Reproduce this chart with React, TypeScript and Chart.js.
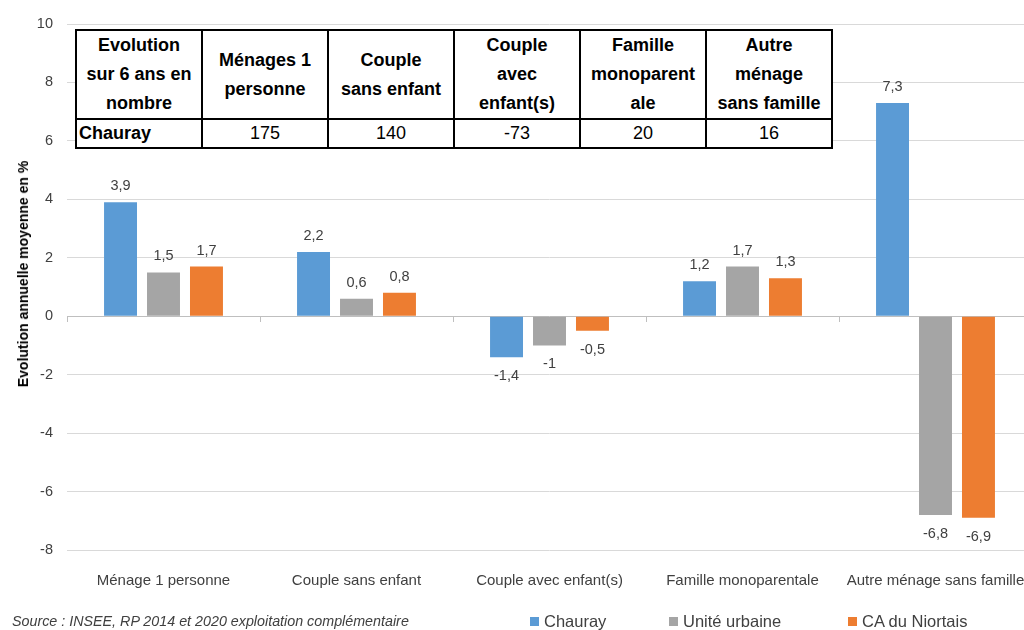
import React, { useEffect, useRef } from "react";
import { Chart, registerables } from "chart.js";

Chart.register(...registerables);

const categories = [
  "Ménage 1 personne",
  "Couple sans enfant",
  "Couple avec enfant(s)",
  "Famille monoparentale",
  "Autre ménage sans famille",
];
const chauray = [3.9, 2.2, -1.4, 1.2, 7.3];
const uniteUrbaine = [1.5, 0.6, -1, 1.7, -6.8];
const caNiortais = [1.7, 0.8, -0.5, 1.3, -6.9];
const seriesNames = ["Chauray", "Unité urbaine", "CA du Niortais"];
const seriesColors = ["#5B9BD5", "#A5A5A5", "#ED7D31"];

const tableHeader = [
  ["Evolution", "sur 6 ans en", "nombre"],
  ["Ménages 1", "personne"],
  ["Couple", "sans enfant"],
  ["Couple", "avec", "enfant(s)"],
  ["Famille", "monoparent", "ale"],
  ["Autre", "ménage", "sans famille"],
];
const tableRowLabel = "Chauray";
const tableValues = ["175", "140", "-73", "20", "16"];

const yTitle = "Evolution annuelle moyenne en %";
const sourceText = "Source : INSEE, RP 2014 et 2020 exploitation complémentaire";

const FONT = "'Liberation Sans', Arial, sans-serif";

const fmt = (v: number) => String(v).replace(".", ",");

const zeroAxisPlugin = {
  id: "zeroAxis",
  beforeDatasetsDraw(chart: any) {
    const { ctx, scales } = chart;
    const x = scales.x;
    const y = scales.y;
    const y0 = Math.round(y.getPixelForValue(0));
    ctx.save();
    ctx.strokeStyle = "#bfbfbf";
    ctx.lineWidth = 1;
    ctx.beginPath();
    ctx.moveTo(chart.chartArea.left, y0 + 0.5);
    ctx.lineTo(chart.chartArea.right, y0 + 0.5);
    for (let i = 0; i <= categories.length; i++) {
      const px = Math.round(x.getPixelForValue(i - 0.5)) + 0.5;
      ctx.moveTo(px, y0);
      ctx.lineTo(px, y0 + 6);
    }
    ctx.stroke();
    ctx.restore();
  },
};

const dataLabelPlugin = {
  id: "dataLabels",
  afterDatasetsDraw(chart: any) {
    const { ctx } = chart;
    ctx.save();
    ctx.font = `14.5px ${FONT}`;
    ctx.fillStyle = "#404040";
    ctx.textAlign = "center";
    ctx.textBaseline = "middle";
    chart.data.datasets.forEach((ds: any, di: number) => {
      const meta = chart.getDatasetMeta(di);
      meta.data.forEach((el: any, i: number) => {
        const v = ds.data[i] as number;
        const yy = v >= 0 ? el.y - 16 : el.y + 19;
        ctx.fillText(fmt(v), el.x, yy);
      });
    });
    ctx.restore();
  },
};

export default function App() {
  const ref = useRef<HTMLCanvasElement>(null);

  useEffect(() => {
    if (!ref.current) return;
    const datasets = [chauray, uniteUrbaine, caNiortais].map((d, i) => ({
      label: seriesNames[i],
      data: d,
      backgroundColor: seriesColors[i],
      categoryPercentage: 0.668,
      barPercentage: 0.767,
    }));
    const chart = new Chart(ref.current, {
      type: "bar",
      data: { labels: categories, datasets },
      options: {
        responsive: false,
        animation: false,
        layout: { padding: { top: 24, left: 0, right: 0, bottom: 0 } },
        plugins: {
          legend: { display: false },
          tooltip: { enabled: false },
        },
        scales: {
          x: {
            grid: { display: false },
            border: { display: false },
            ticks: {
              font: { family: FONT, size: 15 },
              color: "#404040",
              padding: 14,
              maxRotation: 0,
            },
            afterFit: (s: any) => {
              s.height = 80;
              s.paddingLeft = 0;
              s.paddingRight = 0;
            },
          },
          y: {
            min: -8,
            max: 10,
            ticks: {
              stepSize: 2,
              font: { family: FONT, size: 14.5 },
              color: "#404040",
              padding: 14,
            },
            grid: {
              color: (c: any) => (c.tick && c.tick.value === 0 ? "rgba(0,0,0,0)" : "#d9d9d9"),
              drawTicks: false,
            },
            border: { display: false },
            title: { display: false },
            afterFit: (s: any) => {
              s.width = 67;
            },
          },
        },
      },
      plugins: [zeroAxisPlugin, dataLabelPlugin],
    } as any);
    return () => chart.destroy();
  }, []);

  const cellStyle: React.CSSProperties = {
    border: "2px solid #000",
    padding: 0,
    textAlign: "center",
  };

  const legendSquareLeft = [530, 669, 848];

  return (
    <div
      style={{
        position: "absolute",
        left: 0,
        top: 0,
        width: 1024,
        height: 630,
        overflow: "hidden",
        background: "#fff",
        fontFamily: FONT,
      }}
    >
      <canvas ref={ref} width={1032} height={630} style={{ position: "absolute", left: 0, top: 0 }} />
      <div
        style={{
          position: "absolute",
          left: 23,
          top: 274,
          transform: "translate(-50%, -50%) rotate(-90deg)",
          fontSize: 14,
          fontWeight: "bold",
          color: "#000",
          whiteSpace: "nowrap",
          lineHeight: "16px",
        }}
      >
        {yTitle}
      </div>
      <table
        style={{
          position: "absolute",
          left: 75,
          top: 29,
          width: 756,
          borderCollapse: "collapse",
          background: "#fff",
          fontFamily: FONT,
          fontSize: 18,
          color: "#000",
          tableLayout: "fixed",
        }}
      >
        <colgroup>
          {tableHeader.map((_, i) => (
            <col key={i} style={{ width: 126 }} />
          ))}
        </colgroup>
        <tbody>
          <tr style={{ height: 89 }}>
            {tableHeader.map((lines, i) => (
              <td key={i} style={{ ...cellStyle, fontWeight: "bold", lineHeight: "29px" }}>
                {lines.map((l, j) => (
                  <div key={j} style={{ whiteSpace: "nowrap" }}>
                    {l}
                  </div>
                ))}
              </td>
            ))}
          </tr>
          <tr style={{ height: 29 }}>
            <td style={{ ...cellStyle, textAlign: "left", fontWeight: "bold", paddingLeft: 2 }}>{tableRowLabel}</td>
            {tableValues.map((v, i) => (
              <td key={i} style={cellStyle}>
                {v}
              </td>
            ))}
          </tr>
        </tbody>
      </table>
      <div
        style={{
          position: "absolute",
          left: 12,
          top: 612,
          fontSize: 14.3,
          lineHeight: "18px",
          fontStyle: "italic",
          color: "#404040",
          whiteSpace: "nowrap",
        }}
      >
        {sourceText}
      </div>
      {seriesNames.map((n, i) => (
        <div
          key={n}
          style={{
            position: "absolute",
            left: legendSquareLeft[i],
            top: 611,
            height: 20,
            fontSize: 16.5,
            color: "#404040",
            whiteSpace: "nowrap",
            display: "flex",
            alignItems: "center",
          }}
        >
          <span style={{ display: "inline-block", width: 9, height: 9, background: seriesColors[i], marginRight: 5 }} />
          {n}
        </div>
      ))}
    </div>
  );
}
